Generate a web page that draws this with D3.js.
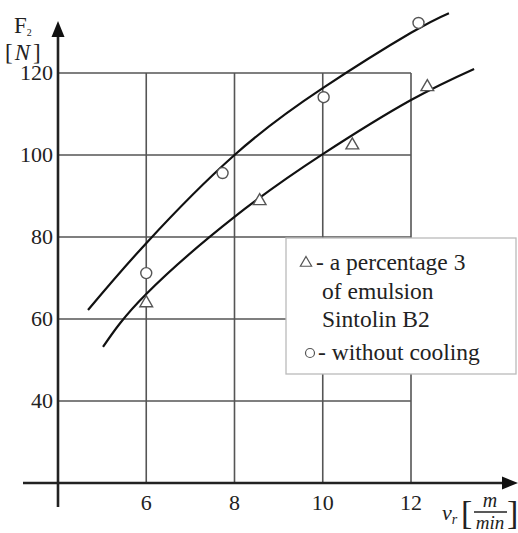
<!DOCTYPE html>
<html lang="en">
<head>
<meta charset="utf-8">
<script src="https://d3js.org/d3.v7.min.js"></script>
<title>F2 vs vr</title>
<style type="text/css">
body {
	margin: 0;
	background-color: #ffffff;
}
svg text {
	font-family: "Liberation Serif", "Times New Roman", serif;
	fill: #222;
}
</style>
</head>
<body>
<script type="text/javascript">
// data
var xTicks = [6, 8, 10, 12];
var yTicks = [40, 60, 80, 100, 120];

// measured points, "without cooling" (circles)
var coolOffX = [6, 7.73, 10.02, 12.17];
var coolOffY = [71.2, 95.6, 114.1, 132.2];

// measured points, 3% emulsion Sintolin B2 (triangles)
var emulX = [6, 8.57, 10.67, 12.37];
var emulY = [63.9, 88.8, 102.4, 116.6];

// fitted curves
var fitOffX = [4.68, 6, 8, 10, 12, 12.86];
var fitOffY = [62.2, 78.5, 100, 116.3, 129.8, 134.6];
var fitEmulX = [5.02, 6, 8, 10, 12, 13.43];
var fitEmulY = [53.2, 66.1, 84.9, 100.2, 113.4, 121];

var legendLines = ["- a percentage 3", "of emulsion", "Sintolin B2"];

var width = 518, height = 533;

var x = d3.scaleLinear().domain([4, 12]).range([58, 411]);
var y = d3.scaleLinear().domain([20, 120]).range([483, 73]);

var svg = d3.select("body")
	.append("svg")
	.attr("width", width)
	.attr("height", height);

// grid
var grid = svg.append("g")
	.style("stroke", "#555")
	.style("stroke-width", 1.6);

grid.selectAll("line.v")
	.data(xTicks)
	.enter()
	.append("line")
	.attr("x1", function(d) { return x(d); })
	.attr("x2", function(d) { return x(d); })
	.attr("y1", y(120))
	.attr("y2", y(20));

grid.selectAll("line.h")
	.data(yTicks)
	.enter()
	.append("line")
	.attr("x1", x(4))
	.attr("x2", x(12))
	.attr("y1", function(d) { return y(d); })
	.attr("y2", function(d) { return y(d); });

// axes with arrows
svg.append("line")
	.attr("x1", x(4)).attr("x2", x(4))
	.attr("y1", 34).attr("y2", 507)
	.style("stroke", "#222").style("stroke-width", 2.6);
svg.append("path")
	.attr("d", "M" + x(4) + ",21 L" + (x(4) - 6.5) + ",37 L" + (x(4) + 6.5) + ",37 Z")
	.style("fill", "#111");

svg.append("line")
	.attr("x1", 23).attr("x2", 505)
	.attr("y1", y(20)).attr("y2", y(20))
	.style("stroke", "#222").style("stroke-width", 2.6);
svg.append("path")
	.attr("d", "M518," + y(20) + " L502," + (y(20) - 6.5) + " L502," + (y(20) + 6.5) + " Z")
	.style("fill", "#111");

// tick labels
svg.selectAll("text.ytick")
	.data(yTicks)
	.enter()
	.append("text")
	.attr("x", 53)
	.attr("y", function(d) { return y(d) + 7; })
	.attr("text-anchor", "end")
	.style("font-size", "22px")
	.text(function(d) { return d; });

svg.selectAll("text.xtick")
	.data(xTicks)
	.enter()
	.append("text")
	.attr("x", function(d) { return x(d); })
	.attr("y", 510)
	.attr("text-anchor", "middle")
	.style("font-size", "22px")
	.text(function(d) { return d; });

// axis titles
var ft = svg.append("text").attr("x", 14).attr("y", 33).style("font-size", "23px");
ft.append("tspan").text("F");
ft.append("tspan").attr("dy", 3).style("font-size", "10px").text("2");

var nt = svg.append("text").attr("x", 5).attr("y", 60).style("font-size", "23px");
nt.append("tspan").text("[");
nt.append("tspan").attr("dx", 2).style("font-style", "italic").text("N");
nt.append("tspan").attr("dx", 3).text("]");

var vt = svg.append("text").attr("x", 442).attr("y", 520).style("font-size", "22px").style("font-style", "italic");
vt.append("tspan").text("v");
vt.append("tspan").attr("dy", 4).style("font-size", "14px").text("r");

svg.append("text").attr("x", 461).attr("y", 524)
	.style("font-size", "34px").text("[");
svg.append("text").attr("x", 507).attr("y", 524)
	.style("font-size", "34px").text("]");
svg.append("text").attr("x", 490).attr("y", 507).attr("text-anchor", "middle")
	.style("font-size", "20px").style("font-style", "italic").text("m");
svg.append("line").attr("x1", 474).attr("x2", 507).attr("y1", 512).attr("y2", 512)
	.style("stroke", "#222").style("stroke-width", 1.3);
svg.append("text").attr("x", 490).attr("y", 529).attr("text-anchor", "middle")
	.style("font-size", "19px").style("font-style", "italic").text("min");

// fitted curves
var line = d3.line()
	.x(function(d) { return x(d[0]); })
	.y(function(d) { return y(d[1]); })
	.curve(d3.curveNatural);

svg.append("path")
	.datum(d3.zip(fitOffX, fitOffY))
	.attr("d", line)
	.style("fill", "none").style("stroke", "#111").style("stroke-width", 2.2);

svg.append("path")
	.datum(d3.zip(fitEmulX, fitEmulY))
	.attr("d", line)
	.style("fill", "none").style("stroke", "#111").style("stroke-width", 2.2);

// markers
var tri = d3.symbol().type(d3.symbolTriangle).size(70);

svg.selectAll("circle.pt")
	.data(d3.zip(coolOffX, coolOffY))
	.enter()
	.append("circle")
	.attr("cx", function(d) { return x(d[0]); })
	.attr("cy", function(d) { return y(d[1]); })
	.attr("r", 5.5)
	.style("fill", "#fff").style("stroke", "#555").style("stroke-width", 1.4);

svg.selectAll("path.tri")
	.data(d3.zip(emulX, emulY))
	.enter()
	.append("path")
	.attr("d", tri)
	.attr("transform", function(d) { return "translate(" + x(d[0]) + "," + y(d[1]) + ")"; })
	.style("fill", "#fff").style("stroke", "#555").style("stroke-width", 1.4);

// legend
var key = svg.append("g");
key.append("rect")
	.attr("x", 286).attr("y", 238)
	.attr("width", 230).attr("height", 136)
	.style("fill", "#fff").style("stroke", "#bbb").style("stroke-width", 1.3);

key.append("path")
	.attr("d", d3.symbol().type(d3.symbolTriangle).size(55))
	.attr("transform", "translate(306,263)")
	.style("fill", "#fff").style("stroke", "#555").style("stroke-width", 1.2);

key.selectAll("text.lg")
	.data(legendLines)
	.enter()
	.append("text")
	.attr("x", function(d, i) { return i == 0 ? 316 : 322; })
	.attr("y", function(d, i) { return 270 + i * 28.5; })
	.style("font-size", "23.5px")
	.text(function(d) { return d; });

key.append("circle")
	.attr("cx", 310).attr("cy", 353).attr("r", 4.5)
	.style("fill", "#fff").style("stroke", "#555").style("stroke-width", 1.2);
key.append("text")
	.attr("x", 318).attr("y", 360)
	.style("font-size", "23.5px")
	.text("- without cooling");
</script>
</body>
</html>
